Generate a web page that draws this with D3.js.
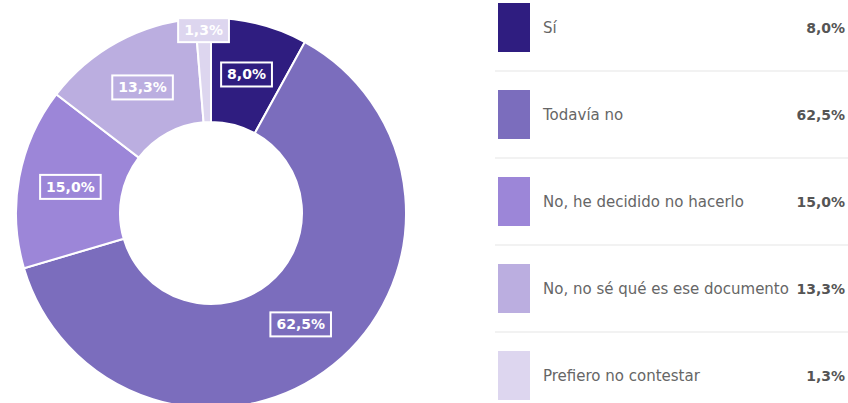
<!DOCTYPE html>
<html>
<head>
<meta charset="utf-8">
<script src="https://cdn.jsdelivr.net/npm/d3@7"></script>
<style>
  html, body { margin: 0; padding: 0; background: #ffffff; }
  svg { display: block; }
</style>
</head>
<body>
<svg id="chart" width="848" height="403"></svg>
<script>
// Survey answers and their shares (percent)
const categories = [
  "Sí",
  "Todavía no",
  "No, he decidido no hacerlo",
  "No, no sé qué es ese documento",
  "Prefiero no contestar"
];
const values = [8.0, 62.5, 15.0, 13.3, 1.3];
const colors = ["#2f1d80", "#7b6dbd", "#9c86d8", "#bbaee0", "#ddd6ef"];

const fmt = v => d3.format(".1f")(v).replace(".", ",") + "%";

const svg = d3.select("#chart");
const data = categories.map((c, i) => ({ name: c, value: values[i], color: colors[i] }));

// Donut
const cx = 211, cy = 213, outerR = 195, innerR = 91;
const pie = d3.pie().value(d => d.value).sort(null);
const arc = d3.arc().innerRadius(innerR).outerRadius(outerR);
const arcs = pie(data);

const g = svg.append("g").attr("transform", `translate(${cx},${cy})`);
g.selectAll("path.slice")
  .data(arcs)
  .join("path")
  .attr("class", "slice")
  .attr("d", arc)
  .attr("fill", d => d.data.color)
  .attr("stroke", "#ffffff")
  .attr("stroke-width", 2);

// Value labels in outlined boxes; the thinnest slice gets pushed outwards
const labels = g.selectAll("g.lbl")
  .data(arcs)
  .join("g")
  .attr("class", "lbl")
  .attr("transform", d => {
    let [x, y] = arc.centroid(d);
    if (d.data.value < 3) {
      const a = (d.startAngle + d.endAngle) / 2;
      const r = 183;
      x = Math.sin(a) * r; y = -Math.cos(a) * r;
    }
    return `translate(${x},${y})`;
  });

labels.each(function(d) {
  const sel = d3.select(this);
  const txt = sel.append("text")
    .attr("text-anchor", "middle")
    .attr("dominant-baseline", "central")
    .attr("font-family", "DejaVu Sans, sans-serif")
    .attr("font-weight", "bold")
    .attr("font-size", 14)
    .attr("fill", "#ffffff")
    .text(fmt(d.data.value));
  const bb = txt.node().getBBox();
  sel.insert("rect", "text")
    .attr("x", bb.x - 6)
    .attr("y", bb.y - 4)
    .attr("width", bb.width + 12)
    .attr("height", bb.height + 8)
    .attr("fill", d.data.color)
    .attr("stroke", "#ffffff")
    .attr("stroke-width", 2);
});

// Legend table
const lx = 498, rowTop = 3, rowH = 87, swW = 32, swH = 49, rightX = 845;
const legend = svg.append("g");
const rows = legend.selectAll("g.row")
  .data(data)
  .join("g")
  .attr("class", "row")
  .attr("transform", (d, i) => `translate(0,${rowTop + i * rowH})`);

rows.append("rect")
  .attr("x", lx).attr("y", 0)
  .attr("width", swW).attr("height", swH)
  .attr("fill", d => d.color);

rows.append("text")
  .attr("x", 543).attr("y", swH / 2)
  .attr("dominant-baseline", "central")
  .attr("font-family", "DejaVu Sans, sans-serif")
  .attr("font-size", 15)
  .attr("fill", "#666666")
  .text(d => d.name);

rows.append("text")
  .attr("x", rightX).attr("y", swH / 2)
  .attr("text-anchor", "end")
  .attr("dominant-baseline", "central")
  .attr("font-family", "DejaVu Sans, sans-serif")
  .attr("font-weight", "bold")
  .attr("font-size", 14)
  .attr("fill", "#555555")
  .text(d => fmt(d.value));

// Separators between rows
legend.selectAll("line.sep")
  .data(data.slice(1))
  .join("line")
  .attr("class", "sep")
  .attr("x1", 495).attr("x2", 848)
  .attr("y1", (d, i) => rowTop + (i + 1) * rowH - 19)
  .attr("y2", (d, i) => rowTop + (i + 1) * rowH - 19)
  .attr("stroke", "#eeeeee")
  .attr("stroke-width", 1.5);
</script>
</body>
</html>
